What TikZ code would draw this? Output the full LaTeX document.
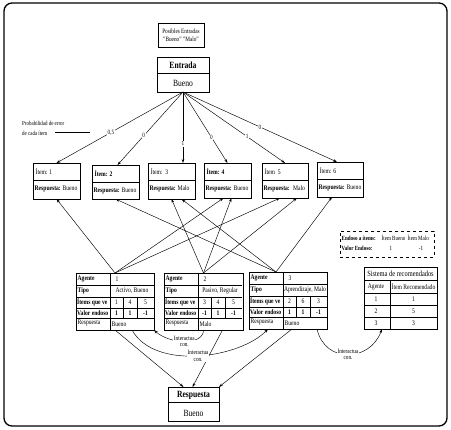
\documentclass[tikz,border=0pt]{standalone}
\usepackage{fontspec}
\setmainfont{Liberation Serif}[FakeStretch=0.8]
\usetikzlibrary{arrows.meta,calc}
\tikzset{
  box/.style={draw, line width=0.6pt, anchor=north west, inner sep=0pt, outer sep=0pt},
  t/.style={inner sep=0.5pt, font=\fontsize{7}{7.5}\selectfont},
  tb/.style={inner sep=0.5pt, font=\bfseries\fontsize{7}{7.5}\selectfont},
  conn/.style={-{Stealth[length=4pt,width=2.6pt]}, line width=0.45pt},
  lbl/.style={fill=white, inner sep=0.6pt, align=center, font=\fontsize{6.5}{6.5}\selectfont},
  grid/.style={line width=0.6pt},
}
\newcommand\itemb[7]{%
  \node[box, minimum width=#4pt, minimum height=#5pt] (#1) at (#2,#3) {};
  \draw[grid] ($(#1.north west)+(0,17)$) -- ($(#1.north east)+(0,17)$);
  \node[t, anchor=west] at ($(#1.north west)+(2,9)$) {#6};
  \node[t, anchor=west] at ($(#1.north west)+(1,26)$) {\textbf{Respuesta:} #7};
}
\newcommand\agentinner[9]{%
  \draw[grid] (0,12) -- (78,12) (0,24) -- (78,24) (0,35) -- (78,35) (0,45) -- (78,45)
    (34,0) -- (34,57) (47,24) -- (47,45) (61,24) -- (61,45);
  \node[tb, anchor=west] at (1,6) {Agente};
  \node[tb, anchor=west] at (1,18) {Tipo};
  \node[tb, anchor=west] at (0.5,29.5) {Ítems que ve};
  \node[tb, anchor=west] at (0.5,40) {Valor endoso};
  \node[t, anchor=west] at (1,50) {Respuesta};
  \node[t, anchor=west] at (39,6) {#1};
  \node[t] at (56,18) {#2};
  \node[t] at (40.5,29.5) {#3};
  \node[t] at (54,29.5) {#4};
  \node[t] at (69.5,29.5) {#5};
  \node[tb] at (40.5,40) {#6};
  \node[tb] at (54,40) {#7};
  \node[tb] at (69.5,40) {#8};
  \node[t, anchor=west] at (35,51) {#9};
}
\begin{document}
\begin{tikzpicture}[x=1pt,y=-1pt]
\useasboundingbox (0,0) rectangle (451,430);
\draw[line width=1.3pt, rounded corners=8pt] (4,3) rectangle (447,426);

% posibles entradas
\node[box, minimum width=46pt, minimum height=24pt, align=center, font=\fontsize{6.6}{8}\selectfont] (pe) at (158,23) {Posibles Entradas\\"Bueno" "Malo"};

% entrada
\node[box, minimum width=52pt, minimum height=35pt] (en) at (157,57) {};
\draw[grid] ($(en.north west)+(0,16)$) -- ($(en.north east)+(0,16)$);
\node[inner sep=0pt, font=\bfseries\fontsize{9.5}{10}\selectfont] (ent) at ($(en.north)+(0,8.5)$) {Entrada};
\node[inner sep=0pt, font=\fontsize{9.5}{10}\selectfont] (enb) at ($(en.north)+(0,26)$) {Bueno};

% items
\itemb{i1}{33}{163}{47}{36}{Ítem: 1}{Bueno}
\itemb{i2}{92}{165}{47}{34}{\textbf{Ítem: 2}}{Bueno}
\itemb{i3}{148}{163}{47}{36}{Ítem:\ \ 3}{Malo}
\itemb{i4}{204}{163}{47}{35}{\textbf{Ítem: 4}}{Bueno}
\itemb{i5}{262}{163}{46}{35}{Ítem\ \ 5}{\ Malo}
\itemb{i6}{317}{162}{46}{35}{Ítem: 6}{Bueno}

% entrada arrows
\draw[conn] (en.south) -- node[lbl, pos=0.57]{0,5} (i1.north);
\draw[conn] (en.south) -- node[lbl, pos=0.6]{0} ($(i2.north)+(2,0)$);
\draw[conn] (en.south) -- node[lbl, pos=0.73]{1} (en.south |- i3.north);
\draw[conn] (en.south) -- node[lbl, pos=0.64]{0} (i4.north);
\draw[conn] (en.south) -- node[lbl, pos=0.63]{1} (i5.north);
\draw[conn] (en.south) -- node[lbl, pos=0.5]{0} ($(i6.north)+(-3,0)$);

% probability note
\node[anchor=west, align=left, inner sep=0pt, font=\fontsize{6.2}{10}\selectfont] (prob) at (22,128) {Probabilidad de error\\de cada ítem};
\coordinate (pl) at (90,132);
\draw[line width=0.4pt] (55,132) -- (pl);

% agents
\node[box, minimum width=78pt, minimum height=57pt] (a1) at (76,273) {};
\begin{scope}[shift={(a1.north west)}]
\agentinner{1}{Activo, Bueno}{1}{4}{5}{1}{1}{-1}{Bueno}
\end{scope}
\node[box, minimum width=79pt, minimum height=57pt] (a2) at (164,273) {};
\begin{scope}[shift={(a2.north west)}]
\agentinner{2}{Pasivo, Regular}{3}{4}{5}{-1}{1}{-1}{Malo}
\end{scope}
\node[box, minimum width=78pt, minimum height=57pt] (a3) at (249,272) {};
\begin{scope}[shift={(a3.north west)}]
\agentinner{3}{Aprendizaje, Malo}{2}{6}{3}{1}{1}{-1}{Bueno}
\end{scope}

% agent -> item arrows
\coordinate (a3t) at ($(a3.north)+(-12,0)$);
\draw[conn] (a1.north) -- (i1.south);
\draw[conn] (a1.north) -- ($(i4.south)+(-4,0)$);
\draw[conn] (a1.north) -- ($(i5.south)+(-5,0)$);
\draw[conn] (a2.north) -- (i3.south);
\draw[conn] (a2.north) -- ($(i4.south)+(4,0)$);
\draw[conn] (a2.north) -- ($(i5.south)+(12,0)$);
\draw[conn] (a3t) -- (i2.south);
\draw[conn] (a3t) -- ($(i3.south)+(10,0)$);
\draw[conn] (a3t) -- ($(i6.south)+(-8,0)$);

% endoso box
\node[box, dashed, minimum width=94pt, minimum height=26pt] (endo) at (340,231) {};
\node[tb, anchor=west, font=\bfseries\fontsize{6.3}{7}\selectfont] at ($(endo.north west)+(1,7)$) {Endoso a ítems:};
\node[t, anchor=west, font=\fontsize{6.3}{7}\selectfont] at ($(endo.north west)+(41,7)$) {Ítem Bueno};
\node[t, anchor=west, font=\fontsize{6.3}{7}\selectfont] at ($(endo.north west)+(67,7)$) {Ítem Malo};
\node[tb, anchor=west, font=\bfseries\fontsize{6.3}{7}\selectfont] at ($(endo.north west)+(1,17)$) {Valor Endoso:};
\node[t, font=\fontsize{6.3}{7}\selectfont] at ($(endo.north west)+(51,17)$) {1};
\node[t, font=\fontsize{6.3}{7}\selectfont] at ($(endo.north west)+(81,17)$) {-1};

% recommender table
\node[box, minimum width=73pt, minimum height=62pt] (rec) at (364,267) {};
\begin{scope}[shift={(rec.north west)}]
\draw[grid] (0,13) -- (73,13) (0,26) -- (73,26) (0,38) -- (73,38) (0,50) -- (73,50) (26,13) -- (26,62);
\node[t, font=\fontsize{8}{9}\selectfont] at (36.5,6.5) {Sistema de recomendados};
\node[t] at (12,19.5) {Agente};
\node[t] at (49.5,19.5) {Ítem Recomendado};
\node[t] at (12,32) {1}; \node[t] at (49.5,32) {1};
\node[t] at (12,44) {2}; \node[t] at (49.5,44) {5};
\node[t] at (12,56) {3}; \node[t] at (49.5,56) {3};
\end{scope}

% respuesta
\node[box, minimum width=51pt, minimum height=34pt] (re) at (168,387) {};
\draw[grid] ($(re.north west)+(0,15)$) -- ($(re.north east)+(0,15)$);
\node[inner sep=0pt, font=\bfseries\fontsize{9.5}{10}\selectfont] (ret) at ($(re.north)+(0,8)$) {Respuesta};
\node[inner sep=0pt, font=\fontsize{9.5}{10}\selectfont] (reb) at ($(re.north)+(0,26)$) {Bueno};

% agents -> respuesta
\draw[conn] (a1.south) -- ($(re.north)+(-10,0)$);
\draw[conn] ($(a2.south)+(19,0)$) -- ($(re.north)+(-1,0)$);
\draw[conn] ($(a3.south)+(4,0)$) -- (re.north east);

% interactions
\draw[conn] (a2.south) .. controls +(0,16) and +(15,14) .. node[lbl]{Interactua\\con.} (a1.south east);
\draw[conn] ($(a1.south)+(17,0)$) .. controls +(23,41) and +(-28,29) .. node[lbl]{Interactua\\con.} ($(a3.south west)+(19,0)$);
\draw[conn] ($(a3.south east)+(-10,0)$) .. controls +(8,35) and +(-12,33) .. node[lbl]{Interactua\\con.} ($(rec.south west)+(18,0)$);
\end{tikzpicture}
\end{document}
